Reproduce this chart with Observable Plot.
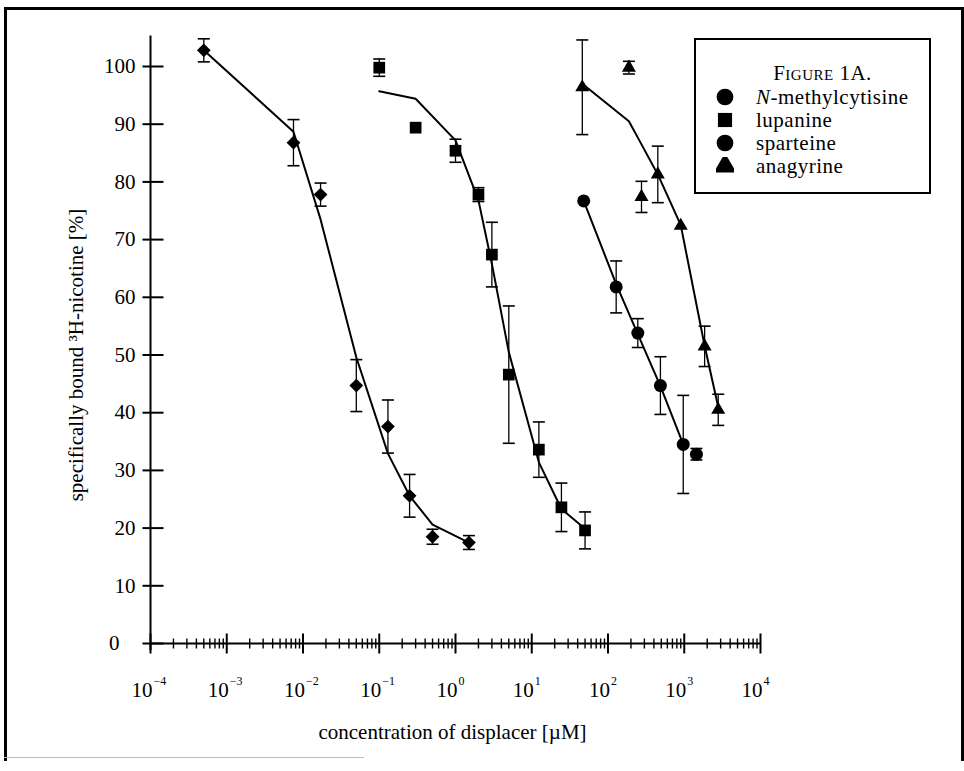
<!DOCTYPE html>
<html><head><meta charset="utf-8">
<script src="https://cdn.jsdelivr.net/npm/d3@7"></script>
<script src="https://cdn.jsdelivr.net/npm/@observablehq/plot@0.6"></script>
<style>
body{margin:0;background:#fff;}
#wrap{position:relative;width:964px;height:771px;font-family:"Liberation Serif","DejaVu Serif",serif;color:#000;}
#frame{position:absolute;left:4px;top:7px;width:954px;height:751px;border-left:3px solid #000;border-top:3px solid #000;border-right:3px solid #000;pointer-events:none;}
#fbottom{position:absolute;left:4px;top:757px;width:360px;height:0;border-top:1px solid #bbb;}
#legend{position:absolute;left:694px;top:38px;width:237px;height:156px;box-sizing:border-box;border:2px solid #000;background:#fff;font-size:21px;letter-spacing:0.5px;}
#legend .title{position:absolute;left:20px;right:0;top:22px;text-align:center;font-variant:small-caps;line-height:22px;}
#legend .row{position:absolute;left:0;height:24px;line-height:24px;}
#legend .row svg{position:absolute;left:20px;top:3px;}
#legend .row span{position:absolute;left:60px;white-space:nowrap;}
</style></head><body>
<div id="wrap"><div id="chart"></div><div id="frame"></div><div id="fbottom"></div>
<div id="legend"></div></div>
<script>
// ---- data ----
const seriesNames = ["N-methylcytisine", "lupanine", "sparteine", "anagyrine"];
const legendSymbols = ["circle", "square", "circle", "triangle"];
const plotSymbols = ["diamond2", "square", "circle", "triangle"];

// N-methylcytisine (diamonds)
const concNMC = [0.0005, 0.0075, 0.017, 0.05, 0.13, 0.25, 0.5, 1.5];
const boundNMC = [102.8, 86.8, 77.8, 44.7, 37.6, 25.6, 18.5, 17.5];
const errNMC = [2, 4, 2, 4.5, 4.6, 3.7, 1.3, 1.2];
const fitNMC = [102.8, 88.7, 73.5, 49.6, 32.9, 25.6, 20.6, 17.5];

// lupanine (squares)
const concLUP = [0.1, 0.3, 1.0, 2.0, 3.0, 5.0, 12.4, 24.5, 50];
const boundLUP = [99.8, 89.4, 85.4, 77.8, 67.4, 46.6, 33.6, 23.6, 19.6];
const errLUP = [1.5, 0, 2, 1.2, 5.6, 11.9, 4.8, 4.2, 3.2];
const fitLUP = [95.7, 94.4, 87.2, 76.8, 65.8, 50.5, 31.4, 23.3, 19.9];

// sparteine (circles)
const concSPA = [48, 128, 246, 487, 970, 1445];
const boundSPA = [76.7, 61.8, 53.8, 44.7, 34.5, 32.8];
const errSPA = [0, 4.5, 2.5, 5, 8.5, 1];
const fitSPA = [76.7, 62.3, 53.6, 44.6, 34.5, null];

// anagyrine (triangles)
const concANA = [46, 188, 275, 450, 900, 1850, 2790];
const boundANA = [96.4, 99.8, 77.4, 81.3, 72.4, 51.5, 40.5];
const errANA = [8.2, 1.1, 2.7, 4.9, 0, 3.5, 2.7];
const fitANA = [97.0, 90.5, 86.5, 81.3, 72.5, 51.6, 41.0];

// axes
const decades = [-4, -3, -2, -1, 0, 1, 2, 3, 4];
const yTicks = [0, 10, 20, 30, 40, 50, 60, 70, 80, 90, 100];
const xTitle = "concentration of displacer [µM]";
const yTitle = "specifically bound ³H-nicotine [%]";
const figTitle = "Figure 1A.";

// ---- build ----
function build(conc, bound, err, fit, k) {
  return conc.map((c, i) => ({c, b: bound[i], e: err[i], f: fit[i], k}));
}
const all = [
  build(concNMC, boundNMC, errNMC, fitNMC, 0),
  build(concLUP, boundLUP, errLUP, fitLUP, 1),
  build(concSPA, boundSPA, errSPA, fitSPA, 2),
  build(concANA, boundANA, errANA, fitANA, 3)
];
const flat = all.flat();
const withErr = flat.filter(d => d.e > 0);

const minorTicks = [];
for (const d of decades.slice(0, -1)) for (let m = 2; m <= 9; m++) minorTicks.push(m * 10 ** d);
const xMin = 10 ** decades[0];

const hLine = (l, r) => ({draw(ctx) { ctx.moveTo(-l, 0); ctx.lineTo(r, 0); }});
const vLine = (u, d) => ({draw(ctx) { ctx.moveTo(0, -u); ctx.lineTo(0, d); }});
const font = "Liberation Serif, DejaVu Serif, serif";
const radii = [6.2, 6.6, 6.5, 5.2];

const marks = [
  // axes lines
  Plot.ruleY([0], {x1: xMin, x2: 10 ** decades[decades.length - 1], strokeWidth: 2}),
  Plot.ruleX([xMin], {y1: -1.2, y2: 105.3, strokeWidth: 2}),
  // y ticks (cross the axis)
  Plot.dot(yTicks, {x: () => xMin, y: d => d, r: 1, symbol: hLine(8, 13), stroke: "black", fill: "none", strokeWidth: 2}),
  // x ticks
  Plot.dot(decades, {x: d => 10 ** d, y: () => 0, r: 1, symbol: vLine(10, 10), stroke: "black", fill: "none", strokeWidth: 2}),
  Plot.dot(minorTicks, {x: d => d, y: () => 0, r: 1, symbol: vLine(5, 5), stroke: "black", fill: "none", strokeWidth: 1.4}),
  // y tick labels
  Plot.text(yTicks.filter(v => v > 0), {x: () => xMin, y: d => d, text: d => String(d), textAnchor: "end", dx: -15, fontSize: 21, letterSpacing: 1}),
  Plot.text(yTicks.filter(v => v === 0), {x: () => xMin, y: d => d, text: d => String(d), textAnchor: "end", dx: -31, fontSize: 21}),
  // x tick labels 10^n
  Plot.text(decades, {x: d => 10 ** d, y: () => 0, text: () => "10", textAnchor: "end", dx: 2, dy: 47, fontSize: 21, letterSpacing: 0.5}),
  Plot.text(decades, {x: d => 10 ** d, y: () => 0, text: d => (d < 0 ? "−" : "") + Math.abs(d), textAnchor: "start", dx: 3, dy: 38, fontSize: 12}),
  // titles
  Plot.text([xTitle], {frameAnchor: "bottom", textAnchor: "middle", text: d => d, dy: 95, dx: -3, fontSize: 21, letterSpacing: 1}),
  Plot.text([yTitle], {frameAnchor: "left", textAnchor: "middle", text: d => d, dx: -74, rotate: -90, fontSize: 21, letterSpacing: 1.3}),
  // fitted lines
  ...all.map(s => Plot.line(s.filter(d => d.f != null), {x: "c", y: "f", stroke: "black", strokeWidth: 2})),
  // error bars
  Plot.ruleX(withErr, {x: "c", y1: d => d.b - d.e, y2: d => d.b + d.e, stroke: "black", strokeWidth: 1.3}),
  Plot.dot(withErr, {x: "c", y: d => d.b + d.e, r: 1, symbol: hLine(6, 6), stroke: "black", fill: "none", strokeWidth: 1.6}),
  Plot.dot(withErr, {x: "c", y: d => d.b - d.e, r: 1, symbol: hLine(6, 6), stroke: "black", fill: "none", strokeWidth: 1.6}),
  // markers
  ...all.map((s, k) => Plot.dot(s, {x: "c", y: "b", symbol: () => plotSymbols[k], r: radii[k], fill: "black", stroke: "none"}))
];

const chart = Plot.plot({
  width: 964, height: 771,
  marginLeft: 150, marginRight: 204, marginTop: 66, marginBottom: 128,
  x: {type: "log", domain: [10 ** decades[0], 10 ** decades[decades.length - 1]], axis: null},
  y: {domain: [0, 100], axis: null},
  symbol: {type: "identity"},
  style: {fontFamily: font, fontSize: "20px", background: "transparent", color: "black", overflow: "visible"},
  marks
});
document.getElementById("chart").appendChild(chart);

// legend
const leg = document.getElementById("legend");
const t = document.createElement("div");
t.className = "title"; t.textContent = figTitle; leg.appendChild(t);
const rowCenters = [57, 80, 103, 126];
seriesNames.forEach((name, i) => {
  const row = document.createElement("div");
  row.className = "row"; row.style.top = (rowCenters[i] - 12) + "px";
  const sym = d3.symbol(d3["symbol" + legendSymbols[i][0].toUpperCase() + legendSymbols[i].slice(1)], legendSymbols[i] === "square" ? 200 : 220)();
  row.innerHTML = `<svg width="18" height="18" viewBox="-9 -9 18 18"><path d="${sym}" fill="black"/></svg>`;
  const sp = document.createElement("span");
  if (name.startsWith("N-")) { sp.innerHTML = "<i>N</i>" + name.slice(1); } else sp.textContent = name;
  row.appendChild(sp);
  leg.appendChild(row);
});
</script>
</body></html>
